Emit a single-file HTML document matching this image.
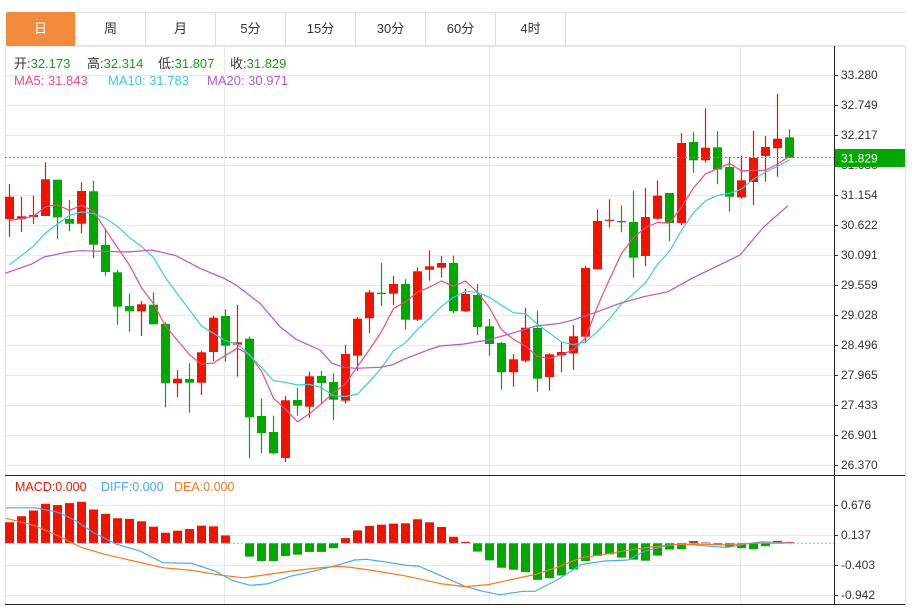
<!DOCTYPE html>
<html><head><meta charset="utf-8"><style>
body{margin:0;background:#fff;width:912px;height:608px;overflow:hidden;font-family:"Liberation Sans","Noto Sans CJK SC",sans-serif;}
.tabs{position:absolute;left:6px;top:12px;height:34px;}
.tab{position:absolute;top:0;width:70px;height:34px;line-height:34px;text-align:center;font-size:13px;color:#333;border-right:1px solid #ddd;box-sizing:border-box;}
svg{position:absolute;left:0;top:0}
</style></head><body>
<div style="position:absolute;left:6px;top:12px;width:899px;height:34px;border-top:1px solid #e3e3e3;border-bottom:1px solid #e3e3e3;box-sizing:border-box"></div>
<div class="tabs">
<div class="tab" style="left:0;background:#f28b3c;color:#fff;border-radius:2px">日</div>
<div class="tab" style="left:70px">周</div>
<div class="tab" style="left:140px">月</div>
<div class="tab" style="left:210px">5分</div>
<div class="tab" style="left:280px">15分</div>
<div class="tab" style="left:350px">30分</div>
<div class="tab" style="left:420px">60分</div>
<div class="tab" style="left:490px">4时</div>
</div>
<svg id="s" width="912" height="608" xmlns="http://www.w3.org/2000/svg"></svg>
<script>
const S=document.getElementById('s');let h='';
const R='#f01400',G='#00a800',GR='#e3e9ef';
h+=`<line x1="5.5" y1="46" x2="5.5" y2="605" stroke="#dde3e8"/><line x1="905.5" y1="46" x2="905.5" y2="605" stroke="#dde3e8"/>`;
[224,489,740].forEach(x=>h+=`<line x1="${x+.5}" y1="46" x2="${x+.5}" y2="605" stroke="${GR}"/>`);
const pt=[['33.280',75],['32.749',105],['32.217',135],['31.686',165],['31.154',195],['30.622',225],['30.091',255],['29.559',285],['29.028',315],['28.496',345],['27.965',375],['27.433',405],['26.901',435],['26.370',465]];
pt.forEach(([t,y])=>{h+=`<line x1="5" y1="${y+.5}" x2="834" y2="${y+.5}" stroke="${GR}"/><line x1="834" y1="${y+.5}" x2="838" y2="${y+.5}" stroke="#333"/><text x="841" y="${y+4}" font-size="12" fill="#333">${t}</text>`});
const mt=[['0.676',505],['0.137',535],['-0.403',565],['-0.942',595]];
mt.forEach(([t,y])=>{h+=`<line x1="5" y1="${y+.5}" x2="834" y2="${y+.5}" stroke="${GR}"/><line x1="834" y1="${y+.5}" x2="838" y2="${y+.5}" stroke="#333"/><text x="841" y="${y+4}" font-size="12" fill="#333">${t}</text>`});
h+=`<line x1="5" y1="46.5" x2="905" y2="46.5" stroke="${GR}"/>`;
h+=`<line x1="5" y1="475.5" x2="905" y2="475.5" stroke="#222"/><line x1="5" y1="604.5" x2="905" y2="604.5" stroke="#222"/><line x1="834.5" y1="46" x2="834.5" y2="605" stroke="#222"/>`;
const C=[[219,196.7,184,236.7],[219,216.3,196.7,232],[217,215,195.7,224],[216,179.3,162.3,216],[179.7,217.3,179.7,239],[219,223.7,200,231.3],[223.7,191,182.3,233.3],[191.3,244.7,180.7,258.3],[245,272,228.3,275.7],[272.3,306.7,270,324.7],[306,311.3,293.7,331.7],[311.3,304.3,301,336],[304.7,324.3,292.3,324.3],[324,383.3,322.3,407.3],[383.3,378.7,370,397.3],[379,382.7,363.3,412.7],[382.7,352.3,350.7,395],[352,317.7,315.7,361],[316,345.7,309.3,361.7],[344.7,342.3,305,376.7],[338.7,417.3,336.7,458.3],[416,433,398.7,453.3],[432,453.3,415.7,454.3],[458,400.3,396,462],[400,405.7,387.7,415.7],[406.7,376.3,371.7,417.7],[376,383,371,404.3],[382,399.7,373.3,420.3],[400.7,354,345,403.3],[355.7,318.7,317,371],[318.3,292.3,290,333.3],[292.7,294,263,306],[293.7,284,276,305],[284,319.7,279.3,329.3],[319.7,271.3,267.3,321],[269.7,266.3,250.3,280.7],[267.7,263,256,277.7],[263,311,255.7,313],[311.3,294,289,312],[295,327,284,335],[326.3,344,319,355.7],[343,372.3,342,389.7],[372.3,359.3,354,386.7],[360.7,327.7,307.7,362.3],[328,378.7,311,391.7],[377,354.3,353.3,390.7],[355.3,352,342.7,372.3],[353.3,336.3,325,369.7],[336.7,268,265.7,343.3],[269.3,221,209.3,269.7],[220.7,219.7,199.3,227.7],[221,222.3,205.3,232.3],[222,257.7,191,277.7],[256,217,188,266.3],[218.7,195.7,180.3,219.7],[193,223,193,241],[223,143,133,225],[142,160.3,132.3,172.7],[160.3,147.7,108.3,162.7],[147.3,169.3,131.3,184.3],[167,196.7,156.7,211.7],[197.3,180.3,155.7,198.7],[182,158,131,205],[156,147,136,181.7],[148.3,138.7,94,176.7],[137.3,157.7,129.3,157.7]];
const X=i=>9+12*i;
C.forEach((c,i)=>{const up=c[1]<c[0];const col=up?R:G;const x=X(i);const t=Math.min(c[0],c[1]),b=Math.max(c[0],c[1]);
h+=`<line x1="${x+.5}" y1="${c[2]}" x2="${x+.5}" y2="${c[3]}" stroke="${col}" stroke-width="1.2"/><rect x="${x-4}" y="${t}" width="9" height="${Math.max(b-t,1.2)}" fill="${col}"/>`});
const cl=[309,309,309,309,309,226.5,226.5,226.5,226.5].concat(C.map(c=>c[1]));
function ma(n){let p=[];for(let i=0;i<C.length;i++){let s=0;for(let k=0;k<n;k++)s+=cl[i+9-k];p.push(X(i)+.5+','+(s/n).toFixed(1));}return p.join(' ');}
h+=`<polyline points="${ma(5)}" fill="none" stroke="#f2497f" stroke-width="1.2"/>`;
h+=`<polyline points="${ma(10)}" fill="none" stroke="#3ccbe2" stroke-width="1.2"/>`;
const m20=[[5,273.3],[32,264],[44,257],[68,252],[80,250.7],[104,251.3],[128,252],[152,250],[176,255.7],[200,268.3],[224,278.3],[236,285],[260,303.3],[280,326.7],[296,339.3],[320,350],[332,363.3],[344,367.3],[356,368.3],[380,367.3],[392,365],[404,359.3],[428,350],[440,346],[464,344],[488,340],[512,333.3],[536,326],[560,323.3],[572,320.3],[596,312.3],[620,303.3],[644,296.7],[668,291.7],[692,278.3],[716,266.7],[740,255],[764,226.7],[788,205.7]];
h+=`<polyline points="${m20.map(p=>p.join(',')).join(' ')}" fill="none" stroke="#b457cc" stroke-width="1.2"/>`;
h+=`<line x1="5" y1="157.5" x2="834" y2="157.5" stroke="#3db83d" stroke-dasharray="2,2"/><rect x="835" y="149" width="70" height="18" fill="#00a800"/><text x="841" y="162.5" font-size="12" fill="#fff">31.829</text>`;
const zy=543.2;const mb=[185,167,150,130,134,128,124,147,160,173,175,182,198,216,210,205,195,197,224,247,287,300,300,285,281,273,273,262,232,209,196,192,189,188,176,185,199,228,243,272,298,320,326,333,356,351,343,325,300,285,280,290,296,299,284,266,265,241,245,253,257,262,265,256,240,244];
mb.forEach((v,i)=>{const y=460+v/2.97;const x=X(i);if(Math.abs(y-zy)<0.5)return;const up=y<zy;h+=`<rect x="${x-4}" y="${Math.min(y,zy)}" width="9" height="${Math.abs(y-zy)}" fill="${up?R:G}"/>`});
h+=`<line x1="5" y1="${zy}" x2="834" y2="${zy}" stroke="#5bc8e8" stroke-dasharray="2,2"/>`;
const dif=[[10,142],[60,142],[100,155],[130,180],[160,215],[200,250],[240,270],[280,305],[330,307],[370,330],[400,358],[430,372],[460,368],[500,345],[540,330],[575,315],[610,297],[630,295],[660,302],[700,313],[720,315],[760,345],[800,375],[830,390],[860,400],[900,390],[920,390],[960,355],[1000,310],[1040,300],[1080,297],[1110,270],[1150,253],[1180,250],[1220,256],[1250,260],[1280,250],[1310,243],[1350,246]];
const dea=[[10,173],[60,195],[100,225],[140,260],[180,280],[230,300],[280,320],[330,328],[380,342],[420,350],[460,340],[500,330],[540,322],[580,316],[600,318],[640,328],[700,345],[760,368],[800,376],[840,370],[880,355],[920,340],[960,318],[1000,290],[1040,280],[1080,268],[1120,258],[1160,252],[1200,250],[1250,252],[1300,247],[1350,247]];
const cv=a=>a.map(p=>(p[0]/1.72).toFixed(1)+','+(460+p[1]/2.97).toFixed(1)).join(' ');
h+=`<polyline points="${cv(dif)}" fill="none" stroke="#4aa8f0" stroke-width="1.2"/><polyline points="${cv(dea)}" fill="none" stroke="#f57a1f" stroke-width="1.2"/>`;
h+=`<text y="68" font-size="13"><tspan x="14" fill="#333">开:</tspan><tspan fill="#1a9c1a">32.173</tspan><tspan x="87" fill="#333">高:</tspan><tspan fill="#1a9c1a">32.314</tspan><tspan x="158" fill="#333">低:</tspan><tspan fill="#1a9c1a">31.807</tspan><tspan x="230" fill="#333">收:</tspan><tspan fill="#1a9c1a">31.829</tspan></text>`;
h+=`<text y="85" font-size="13"><tspan x="14" fill="#f2497f">MA5: 31.843</tspan><tspan x="108" fill="#3ccbe2">MA10: 31.783</tspan><tspan x="207" fill="#b457cc">MA20: 30.971</tspan></text>`;
h+=`<text y="491" font-size="12.5"><tspan x="15" fill="#f01400">MACD:0.000</tspan><tspan x="101" fill="#4aa8f0">DIFF:0.000</tspan><tspan x="174" fill="#f57a1f">DEA:0.000</tspan></text>`;
S.innerHTML=h;
</script>
</body></html>
